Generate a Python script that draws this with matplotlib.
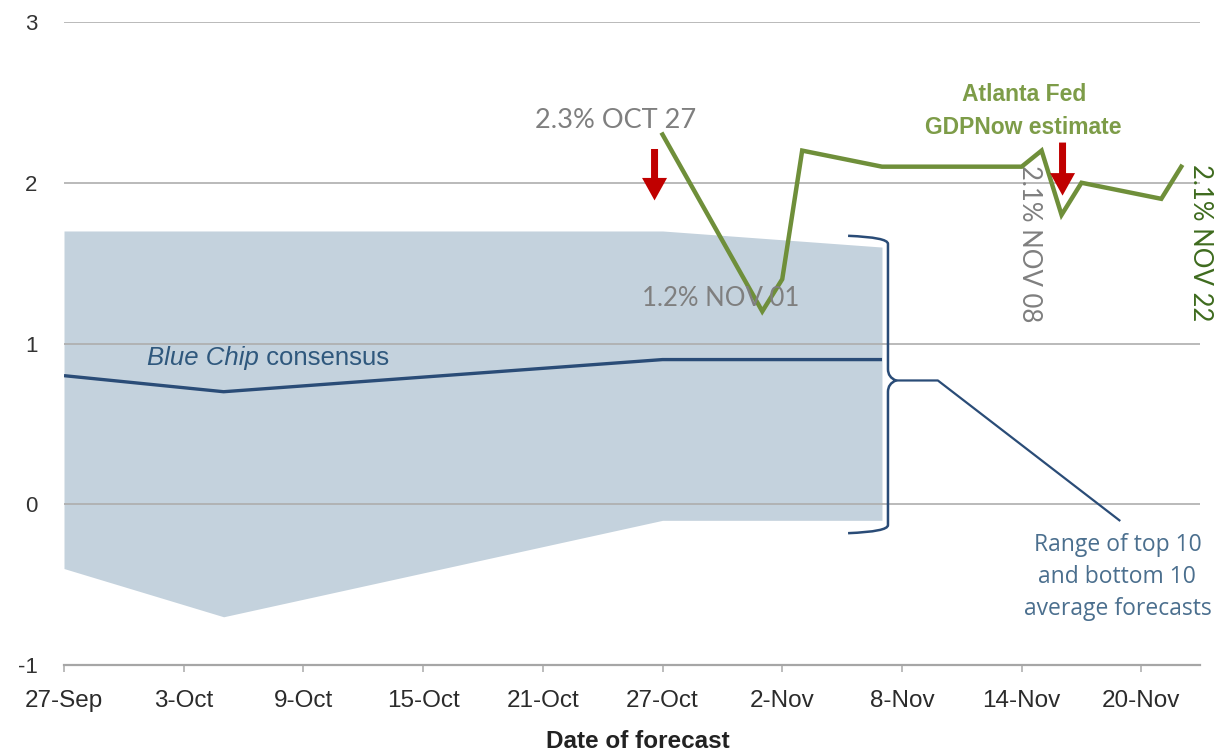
import datetime as dt
import matplotlib
matplotlib.use("Agg")
import matplotlib.pyplot as plt
import matplotlib.dates as mdates
from matplotlib.path import Path
from matplotlib.patches import PathPatch

# ---------------- data ----------------
start = dt.datetime(2016, 9, 27)
def d(m, day):
    return dt.datetime(2016, m, day)

gdp_dates = [d(10, 27), d(11, 1), d(11, 2), d(11, 3), d(11, 7), d(11, 14),
             d(11, 15), d(11, 16), d(11, 17), d(11, 21), d(11, 22)]
gdp_values = [2.3, 1.2, 1.4, 2.2, 2.1, 2.1, 2.2, 1.8, 2.0, 1.9, 2.1]

bc_dates = [d(9, 27), d(10, 5), d(10, 27), d(11, 7)]
bc_values = [0.8, 0.7, 0.9, 0.9]

range_dates = [d(9, 27), d(10, 5), d(10, 27), d(11, 7)]
range_top = [1.7, 1.7, 1.7, 1.6]
range_bottom = [-0.4, -0.7, -0.1, -0.1]

xtick_dates = [d(9, 27), d(10, 3), d(10, 9), d(10, 15), d(10, 21), d(10, 27),
               d(11, 2), d(11, 8), d(11, 14), d(11, 20)]
xtick_labels = ["27-Sep", "3-Oct", "9-Oct", "15-Oct", "21-Oct", "27-Oct",
                "2-Nov", "8-Nov", "14-Nov", "20-Nov"]
yticks = [-1, 0, 1, 2, 3]

# ---------------- style ----------------
GREEN = "#6f8f3a"
GREEN_TXT = "#7d9c48"
DKGREEN = "#3e6b1e"
GREY_TXT = "#7f7f7f"
NAVY = "#2a4c77"
SHADE = "#c4d2dd"
GRID = "#b4b4b4"
RED = "#c00000"
SANS = ["Liberation Sans", "DejaVu Sans"]

fig = plt.figure(figsize=(12.19, 7.55), dpi=100)
ax = fig.add_axes([64 / 1219, 90 / 755, 1136 / 1219, 643 / 755])

def dd(x):
    return start + dt.timedelta(days=x)

ax.set_xlim(start, dd(56.94))
ax.set_ylim(-1, 3)

# grid
for y in yticks:
    ax.axhline(y, color=GRID, lw=1.3, zorder=1)

# range band
ax.fill_between(range_dates, range_bottom, range_top, color=SHADE, lw=0, zorder=0.5)
for y in [0, 1]:
    ax.plot([range_dates[0], range_dates[-1]], [y, y], color="#9aa9b5", lw=1.3, zorder=0.8)

# blue chip line
ax.plot(bc_dates, bc_values, color=NAVY, lw=2.4, zorder=3, solid_capstyle="butt")

# GDPNow line
ax.plot(gdp_dates, gdp_values, color=GREEN, lw=3.2, zorder=4, solid_joinstyle="miter")

# bracket
xb0 = mdates.date2num(range_dates[-1]) - 1.7
xb1 = mdates.date2num(range_dates[-1]) + 0.3
xt = xb1 + 0.4
yt = range_top[-1] + 0.07
yb = range_bottom[-1] - 0.08
ym = 0.77
verts = [(xb0, yt), (xb1, yt - 0.01), (xb1, yt - 0.05),
         (xb1, ym + 0.07), (xb1, ym + 0.02), (xt, ym),
         (xb1, ym - 0.02), (xb1, ym - 0.07),
         (xb1, yb + 0.05), (xb1, yb + 0.01), (xb0, yb)]
codes = [Path.MOVETO, Path.CURVE3, Path.CURVE3,
         Path.LINETO, Path.CURVE3, Path.CURVE3,
         Path.CURVE3, Path.CURVE3,
         Path.LINETO, Path.CURVE3, Path.CURVE3]
ax.add_patch(PathPatch(Path(verts, codes), fill=False, edgecolor=NAVY, lw=1.8, zorder=5))
ax.plot([xt, xt + 2.1, xt + 11.2], [ym, ym, -0.1], color=NAVY, lw=1.6, zorder=5)

# texts
ax.text(mdates.date2num(d(11, 18)) + 0.8, -0.455,
        "Range of top 10\nand bottom 10\naverage forecasts",
        ha="center", va="center", fontsize=16.5, color="#4b6f8e",
        linespacing=1.45, family="Open Sans", clip_on=False)

t1 = ax.text(mdates.date2num(d(10, 1)) + 0.15, 0.91, "Blue Chip", style="italic",
             fontsize=18.5, color="#2f587d", ha="left", va="center", family=SANS)
fig.canvas.draw()
bb = t1.get_window_extent()
x_after = ax.transData.inverted().transform((bb.x1, bb.y0))[0]
ax.text(x_after, 0.91, " consensus",
        fontsize=18.5, color="#2f587d", ha="left", va="center", family=SANS)

ax.text(mdates.date2num(d(11, 14)) + 0.1, 2.445, "Atlanta Fed\nGDPNow estimate",
        ha="center", va="center", fontsize=16.5, color=GREEN_TXT,
        fontweight="bold", family=SANS, linespacing=1.55)

ax.text(mdates.date2num(d(10, 24)) + 0.66, 2.39, "2.3% OCT 27", ha="center", va="center",
        fontsize=19.5, color=GREY_TXT, family="Lato")
ax.text(mdates.date2num(d(11, 1)) - 2.1, 1.28, "1.2% NOV 01", ha="center", va="center",
        fontsize=18.5, color=GREY_TXT, family="Lato", zorder=6)
ax.text(mdates.date2num(d(11, 14)) + 0.4, 1.62, "2.1% NOV 08", ha="center", va="center",
        fontsize=18.5, color=GREY_TXT, family="Lato", rotation=-90, clip_on=False)
ax.text(mdates.date2num(d(11, 22)) + 0.95, 1.63, "2.1% NOV 22", ha="center", va="center",
        fontsize=18.5, color=DKGREEN, family="Lato", rotation=-90, clip_on=False)

# red arrows
for xa, y0, y1 in [(mdates.date2num(d(10, 26)) + 0.6, 2.21, 1.89),
                   (mdates.date2num(d(11, 16)) + 0.05, 2.25, 1.92)]:
    ax.annotate("", xy=(xa, y1), xytext=(xa, y0),
                arrowprops=dict(arrowstyle="simple,head_width=1.0,head_length=0.9,tail_width=0.28",
                                color=RED, lw=0, mutation_scale=18, shrinkA=0, shrinkB=0),
                zorder=7)

# axes
for s in ["top", "right", "left"]:
    ax.spines[s].set_visible(False)
ax.spines["bottom"].set_color("#a6a6a6")
ax.spines["bottom"].set_linewidth(1.6)
ax.spines["bottom"].set_zorder(2)

ax.set_xticks(xtick_dates)
ax.set_xticklabels(xtick_labels, family=SANS, fontsize=17.5, color="#2b2b2b")
ax.tick_params(axis="x", length=5, width=1.2, color="#b0b0b0", pad=13)

ax.set_yticks(yticks)
ax.set_yticklabels([str(v) for v in yticks], fontsize=16, color="#333333", family=SANS)
ax.tick_params(axis="y", length=0, pad=19)

ax.set_xlabel("Date of forecast", family=SANS, fontweight="bold", fontsize=17.5,
              color="#222222")
ax.xaxis.label.set_verticalalignment("center")
ax.xaxis.set_label_coords((638 - 64) / 1136, -(742 - 665) / 643)

fig.savefig("out.png", dpi=100, facecolor="white")
